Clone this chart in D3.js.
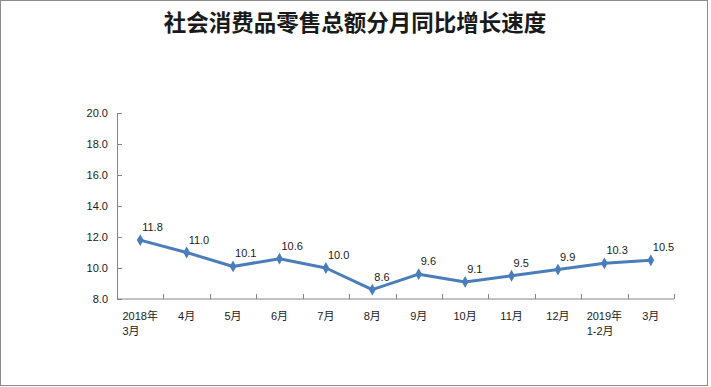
<!DOCTYPE html>
<html>
<head>
<meta charset="utf-8">
<script src="https://cdn.jsdelivr.net/npm/d3@7"></script>
<style>
    body { margin: 0; background: #fff; }
    svg text { font-family: "Liberation Sans", "Noto Sans CJK SC", sans-serif; fill: #1a1a1a; }
    .title { font-family: "Noto Sans CJK SC", sans-serif; font-weight: bold; }
</style>
</head>
<body>
<svg id="chart" width="711" height="387"></svg>
<script>
var title = "社会消费品零售总额分月同比增长速度";
// category labels, one array of lines each
var months = [["2018年", "3月"], ["4月"], ["5月"], ["6月"], ["7月"], ["8月"], ["9月"],
    ["10月"], ["11月"], ["12月"], ["2019年", "1-2月"], ["3月"]];
var growth = [11.8, 11.0, 10.1, 10.6, 10.0, 8.6, 9.6, 9.1, 9.5, 9.9, 10.3, 10.5];
var yTicks = [8, 10, 12, 14, 16, 18, 20];

var svg = d3.select("#chart");
var plot = {left: 117, right: 674, top: 113, bottom: 299};
var axisColor = "#868686", lineColor = "#4a7ebb";

// outer frame
svg.append("rect")
    .attr("x", 0.5).attr("y", 0.5)
    .attr("width", 707).attr("height", 385)
    .attr("fill", "none")
    .attr("stroke", "#8c8c8c");

svg.append("text")
    .attr("class", "title")
    .attr("x", 355).attr("y", 31)
    .attr("text-anchor", "middle")
    .style("font-size", "22.5px")
    .text(title);

var x = d3.scaleBand()
    .domain(d3.range(months.length))
    .range([plot.left, plot.right]);
var y = d3.scaleLinear().domain([8, 20]).range([plot.bottom, plot.top]);

// y axis, ticks pointing inwards
var yAxis = svg.append("g")
    .attr("transform", "translate(" + plot.left + ",0)")
    .call(d3.axisRight(y).tickValues(yTicks).tickSize(5).tickSizeOuter(0).tickFormat(d3.format(".1f")));
yAxis.select(".domain").attr("stroke", axisColor);
yAxis.selectAll(".tick line").attr("stroke", axisColor);
yAxis.selectAll(".tick text")
    .attr("x", -9)
    .attr("text-anchor", "end")
    .style("font-size", "11px");

// x axis, ticks at band edges pointing up
var xg = svg.append("g").attr("transform", "translate(0," + plot.bottom + ")");
xg.append("line")
    .attr("x1", plot.left).attr("x2", plot.right)
    .attr("stroke", axisColor);
xg.selectAll(".tk")
    .data(d3.range(1, months.length + 1))
    .join("line")
    .attr("class", "tk")
    .attr("x1", function(i) { return Math.round(plot.left + i * x.step()) + 0.5; })
    .attr("x2", function(i) { return Math.round(plot.left + i * x.step()) + 0.5; })
    .attr("y1", 0).attr("y2", -5)
    .attr("stroke", axisColor);

var labels = xg.selectAll(".lbl")
    .data(months)
    .join("text")
    .attr("class", "lbl")
    .style("font-size", "11px")
    .attr("y", 21);
labels.each(function(lines, i) {
    var t = d3.select(this);
    var cx = x(i) + x.bandwidth() / 2;
    var w = d3.max(lines, function(s) { return s.length; });
    // multi-line labels are a left aligned block centred on the band
    if (lines.length > 1) {
        t.attr("x", cx).attr("text-anchor", "middle");
        lines.forEach(function(s, j) {
            t.append("tspan").attr("x", cx).attr("dy", j ? 15 : 0).text(s);
        });
        var bb = this.getBBox();
        t.attr("text-anchor", "start");
        t.selectAll("tspan").attr("x", bb.x);
    } else {
        t.attr("x", cx).attr("text-anchor", "middle").text(lines[0]);
    }
});

var line = d3.line()
    .x(function(d, i) { return x(i) + x.bandwidth() / 2; })
    .y(function(d) { return y(d); });

svg.append("path")
    .datum(growth)
    .attr("d", line)
    .attr("fill", "none")
    .attr("stroke", lineColor)
    .attr("stroke-width", 3)
    .attr("stroke-linejoin", "round");

svg.selectAll(".pt")
    .data(growth)
    .join("path")
    .attr("class", "pt")
    .attr("d", d3.symbol().type(d3.symbolDiamond).size(40))
    .attr("transform", function(d, i) {
        return "translate(" + (x(i) + x.bandwidth() / 2) + "," + y(d) + ")";
    })
    .attr("fill", lineColor);

svg.selectAll(".val")
    .data(growth)
    .join("text")
    .attr("class", "val")
    .attr("x", function(d, i) { return x(i) + x.bandwidth() / 2 + 2; })
    .attr("y", function(d) { return y(d) - 9; })
    .style("font-size", "11px")
    .text(function(d) { return d.toFixed(1); });
</script>
</body>
</html>
